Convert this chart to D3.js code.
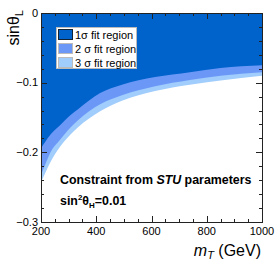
<!DOCTYPE html>
<html>
<head>
<meta charset="utf-8">
<script src="https://d3js.org/d3.v7.min.js"></script>
<style>
body { margin: 0; background: #fff; }
svg { display: block; font-family: "Liberation Sans", Arial, sans-serif; }
</style>
</head>
<body>
<script>
// boundary of each fit region
var mT     = [200, 215, 233, 269, 305, 334, 414, 493, 613, 739, 850, 1000];
var sigma1 = [-0.194, -0.185, -0.175, -0.161, -0.147, -0.138, -0.115, -0.103, -0.092, -0.085, -0.079, -0.075];
var sigma2 = [-0.232, -0.218, -0.201, -0.182, -0.165, -0.154, -0.131, -0.118, -0.105, -0.096, -0.090, -0.085];
var sigma3 = [-0.243, -0.230, -0.215, -0.192, -0.175, -0.164, -0.141, -0.126, -0.112, -0.103, -0.097, -0.090];
var legendLabels = ["1\u03c3 fit region", "2 \u03c3 fit region", "3 \u03c3 fit region"];
var xTicks = [200, 400, 600, 800, 1000];
var yTicks = [0, -0.1, -0.2, -0.3];

var W = 276, H = 262;
var margin = {top: 13, right: 14, bottom: 40, left: 41};
var width = W - margin.left - margin.right,
    height = H - margin.top - margin.bottom;

var svg = d3.select("body").append("svg").attr("width", W).attr("height", H);
var g = svg.append("g").attr("transform", "translate(" + margin.left + "," + margin.top + ")");

var x = d3.scaleLinear().domain([200, 1000]).range([0, width]);
var y = d3.scaleLinear().domain([-0.3, 0]).range([height, 0]);

var colors = ["#0063cc", "#6b98f7", "#a0cdfc"];
var bands = [sigma3, sigma2, sigma1];
var bandColors = [colors[2], colors[1], colors[0]];

bands.forEach(function(b, k) {
    var area = d3.area()
        .x(function(d, i) { return x(mT[i]); })
        .y0(y(0))
        .y1(function(d) { return y(d); })
        .curve(d3.curveMonotoneX);
    g.append("path").datum(b).attr("d", area).attr("fill", bandColors[k]);
});

// axes, ROOT style with ticks inside
var axisColor = "#222";
function minor(a, b, s) { var r = []; for (var v = a; v <= b + 1e-9; v += s) r.push(+v.toFixed(4)); return r; }
var xMinor = minor(200, 1000, 50);
var yMinor = minor(-0.3, 0, 0.02);

var ax = g.append("g").attr("stroke", axisColor).attr("stroke-width", 1);
ax.append("rect").attr("x", 0.5).attr("y", 0.5).attr("width", width).attr("height", height)
  .attr("fill", "none");

xMinor.forEach(function(v) {
    var isMaj = xTicks.indexOf(v) >= 0, L = isMaj ? 6 : 3;
    var px = Math.round(x(v)) + 0.5;
    ax.append("line").attr("x1", px).attr("x2", px).attr("y1", height).attr("y2", height - L);
    ax.append("line").attr("x1", px).attr("x2", px).attr("y1", 0).attr("y2", L);
});
yMinor.forEach(function(v) {
    var isMaj = yTicks.some(function(t) { return Math.abs(t - v) < 1e-6; }), L = isMaj ? 6 : 3;
    var py = Math.round(y(v)) + 0.5;
    ax.append("line").attr("x1", 0).attr("x2", L).attr("y1", py).attr("y2", py);
    ax.append("line").attr("x1", width).attr("x2", width - L).attr("y1", py).attr("y2", py);
});

g.selectAll(".xl").data(xTicks).enter().append("text")
    .attr("x", function(d) { return x(d); }).attr("y", height + 12.5)
    .attr("text-anchor", "middle").attr("font-size", 11).attr("fill", "#000")
    .text(function(d) { return d; });
g.selectAll(".yl").data(yTicks).enter().append("text")
    .attr("x", -3).attr("y", function(d) { return y(d) + 3.5; })
    .attr("text-anchor", "end").attr("font-size", 11).attr("fill", "#000")
    .text(function(d) { return d === 0 ? "0" : d3.format(".1f")(d); });

// axis titles
var yt = svg.append("text").attr("transform", "translate(19,10) rotate(-90)")
    .attr("text-anchor", "end").attr("font-size", 16);
yt.append("tspan").text("sin\u03b8");
yt.append("tspan").attr("font-size", 11).attr("dy", 4).text("L");

var xt = svg.append("text").attr("x", 261).attr("y", 256)
    .attr("text-anchor", "end").attr("font-size", 16);
xt.append("tspan").attr("font-style", "italic").text("m");
xt.append("tspan").attr("font-style", "italic").attr("font-size", 11).attr("dy", 3).text("T");
xt.append("tspan").attr("dy", -3).text(" (GeV)");

// legend
var lg = svg.append("g").attr("transform", "translate(56,27)");
lg.append("rect").attr("x", 0.5).attr("y", 0.5).attr("width", 80).attr("height", 41)
  .attr("fill", "#fff").attr("stroke", "#bbb");
legendLabels.forEach(function(t, i) {
    lg.append("rect").attr("x", 2.5).attr("y", 2.5 + i * 14).attr("width", 14).attr("height", 10)
      .attr("fill", colors[i]).attr("stroke", i === 0 ? "#123" : "#bbb").attr("stroke-width", 1);
    lg.append("text").attr("x", 19).attr("y", 11.5 + i * 14).attr("font-size", 11).text(t);
});

// annotation
var a1 = svg.append("text").attr("x", 60).attr("y", 184).attr("font-size", 12.4).attr("font-weight", "bold");
a1.append("tspan").text("Constraint from ");
a1.append("tspan").attr("font-style", "italic").text("STU");
a1.append("tspan").text(" parameters");

var a2 = svg.append("text").attr("x", 60).attr("y", 205).attr("font-size", 12.4).attr("font-weight", "bold");
a2.append("tspan").text("sin");
a2.append("tspan").attr("font-size", 8).attr("dy", -5).text("2");
a2.append("tspan").attr("dy", 5).text("\u03b8");
a2.append("tspan").attr("font-size", 8).attr("dy", 3).text("H");
a2.append("tspan").attr("dy", -3).text("=0.01");
</script>
</body>
</html>
